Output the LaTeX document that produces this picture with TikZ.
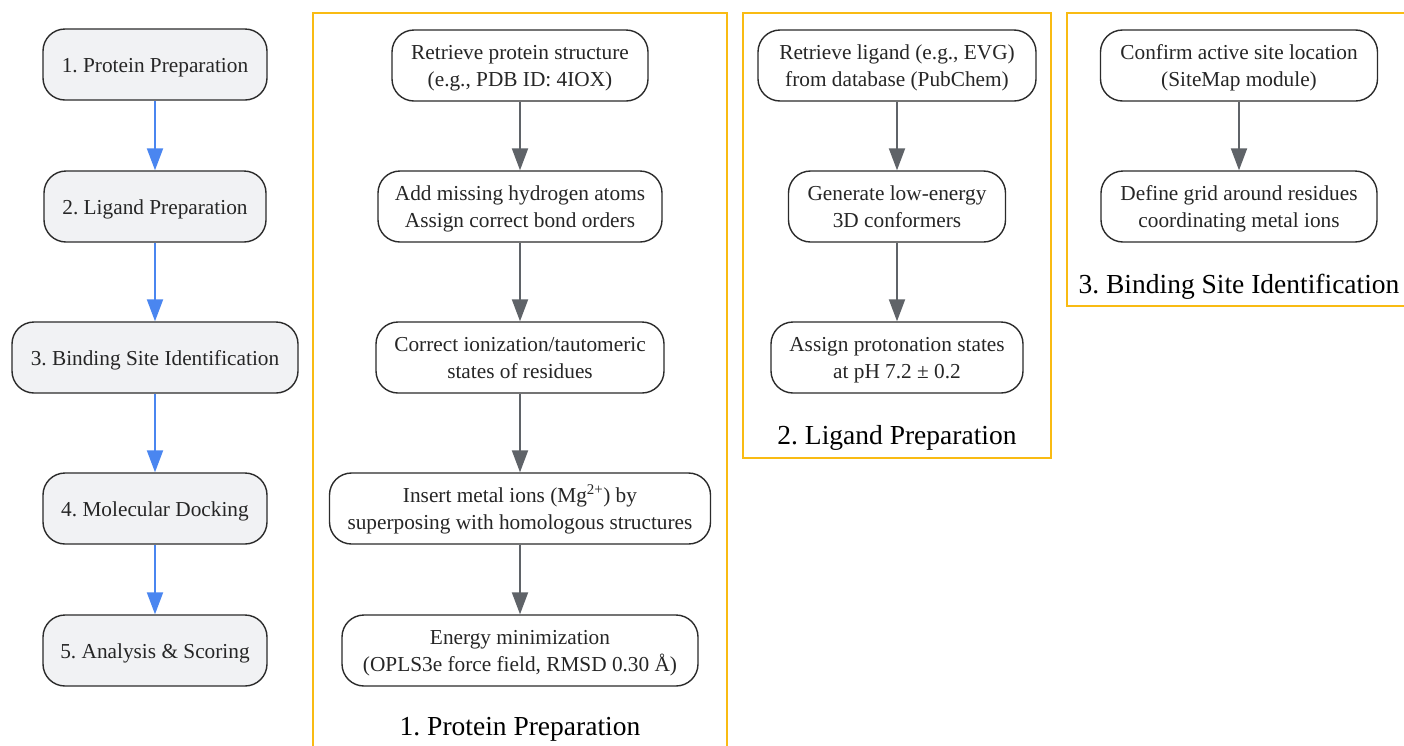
\documentclass[tikz,border=0pt]{standalone}
\usepackage{fontspec}
\setmainfont{Liberation Serif}
\usetikzlibrary{arrows.meta}
\definecolor{clusterc}{HTML}{F9BB13}
\definecolor{phasefill}{HTML}{F1F2F4}
\definecolor{edgeblue}{HTML}{4A86F0}
\definecolor{edgegray}{HTML}{5F6368}
\definecolor{boxline}{HTML}{2B2B2B}
\begin{document}
\frenchspacing
\begin{tikzpicture}[x=1pt,y=-1pt,
  every node/.style={font=\fontsize{21.3}{27}\selectfont, text=black!85, align=center, inner sep=0pt},
  box/.style={draw=boxline, line width=1.4pt, rounded corners=22pt, minimum height=71pt, fill=white, text height=44pt, text depth=2pt},
  phase/.style={box, fill=phasefill, text height=18pt, text depth=2pt},
  cluster/.style={draw=clusterc, line width=1.5pt},
  ctitle/.style={font=\fontsize{27.5}{33}\selectfont, text=black},
  bluearrow/.style={draw=edgeblue, line width=2pt, -{Triangle[length=22pt,width=16pt]}},
  grayarrow/.style={draw=edgegray, line width=2pt, -{Triangle[length=22pt,width=16pt]}}
]
\clip (0,0) rectangle (1404,745);
\fill[white] (0,0) rectangle (1404,745);

% clusters
\draw[cluster] (313,13) rectangle (727,760);
\draw[cluster] (743,13) rectangle (1051,458);
\draw[cluster] (1067,13) rectangle (1420,306);
\node[ctitle] (t1) at (520,729.5) {1. Protein Preparation};
\node[ctitle] (t2) at (897,437.5) {2. Ligand Preparation};
\node[ctitle] (t3) at (1239,286.5) {3. Binding Site Identification};

% main phases
\node[phase, minimum width=224pt] (p1) at (155,64.5) {1. Protein Preparation};
\node[phase, minimum width=222pt] (p2) at (155,206.5) {2. Ligand Preparation};
\node[phase, minimum width=286pt] (p3) at (155,357.5) {3. Binding Site Identification};
\node[phase, minimum width=224pt] (p4) at (155,508.5) {4. Molecular Docking};
\node[phase, minimum width=224pt] (p5) at (155,650.5) {5. Analysis \& Scoring};
\draw[bluearrow] (p1) -- (p2);
\draw[bluearrow] (p2) -- (p3);
\draw[bluearrow] (p3) -- (p4);
\draw[bluearrow] (p4) -- (p5);

% protein preparation
\node[box, minimum width=256pt] (a1) at (520,65.5) {Retrieve protein structure\\(e.g., PDB ID: 4IOX)};
\node[box, minimum width=284pt] (a2) at (520,206.5) {Add missing hydrogen atoms\\Assign correct bond orders};
\node[box, minimum width=288pt] (a3) at (520,357.5) {Correct ionization/tautomeric\\states of residues};
\node[box, minimum width=381pt] (a4) at (520,508.5) {Insert metal ions (Mg\textsuperscript{2+}) by\\superposing with homologous structures};
\node[box, minimum width=356pt] (a5) at (520,650.5) {Energy minimization\\(OPLS3e force field, RMSD 0.30 Å)};
\draw[grayarrow] (a1) -- (a2);
\draw[grayarrow] (a2) -- (a3);
\draw[grayarrow] (a3) -- (a4);
\draw[grayarrow] (a4) -- (a5);

% ligand preparation
\node[box, minimum width=278pt] (b1) at (897,65.5) {Retrieve ligand (e.g., EVG)\\from database (PubChem)};
\node[box, minimum width=217pt] (b2) at (897,206.5) {Generate low-energy\\3D conformers};
\node[box, minimum width=252pt] (b3) at (897,357.5) {Assign protonation states\\at pH 7.2 ± 0.2};
\draw[grayarrow] (b1) -- (b2);
\draw[grayarrow] (b2) -- (b3);

% binding site
\node[box, minimum width=277pt] (c1) at (1239,65.5) {Confirm active site location\\(SiteMap module)};
\node[box, minimum width=276pt] (c2) at (1239,206.5) {Define grid around residues\\coordinating metal ions};
\draw[grayarrow] (c1) -- (c2);
\end{tikzpicture}
\end{document}
